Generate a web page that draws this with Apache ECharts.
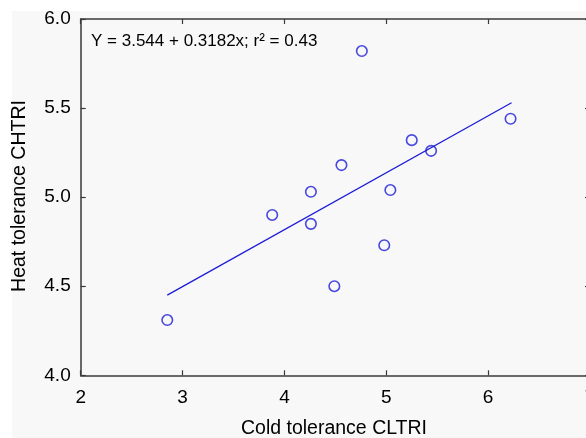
<!DOCTYPE html>
<html><head><meta charset="utf-8">
<script src="https://cdn.jsdelivr.net/npm/echarts@6/dist/echarts.min.js"></script>
<style>html,body{margin:0;padding:0;overflow:hidden;background:#fff;width:586px;height:438px}#c{width:600px;height:438px}</style>
</head><body><div id="c"></div>
<script>
const cltri = [2.85, 3.88, 4.26, 4.26, 4.49, 4.56, 4.76, 4.98, 5.04, 5.25, 5.44, 6.22];
const chtri = [4.31, 4.90, 5.03, 4.85, 4.50, 5.18, 5.82, 4.73, 5.04, 5.32, 5.26, 5.44];
const fitLine = [[2.85, 4.45], [6.23, 5.53]];
const equation = 'Y = 3.544 + 0.3182x; r\u00b2 = 0.43';
const xTitle = 'Cold tolerance CLTRI';
const yTitle = 'Heat tolerance CHTRI';

const blue = '#1c1cd8';
const axisCol = '#3a3a3a';
const font = 'Liberation Sans, Arial, sans-serif';
const points = cltri.map((x, i) => [x, chtri[i]]);

const chart = echarts.init(document.getElementById('c'), null, {renderer: 'canvas'});
const axisBase = {
  type: 'value', splitLine: {show: false},
  axisLine: {show: true, lineStyle: {color: axisCol, width: 1.5}},
  axisTick: {show: true, inside: true, length: 5, lineStyle: {color: axisCol, width: 1.2}},
};
chart.setOption({
  backgroundColor: '#ffffff',
  animation: false,
  grid: {left: 80.7, right: 10, top: 19, bottom: 62.7, containLabel: false},
  graphic: [
    {type: 'rect', z: -10, silent: true, shape: {x: 12, y: 11, width: 600, height: 440}, style: {fill: '#f8f8f8'}},
    {type: 'text', x: 91, y: 41, z: 10, style: {text: equation, font: '17px ' + font, fill: '#000', verticalAlign: 'middle'}},
    {type: 'text', z: 10, x: 334, y: 429, style: {text: xTitle, font: '19.5px ' + font, fill: '#000', align: 'center', verticalAlign: 'middle'}},
    {type: 'text', z: 10, x: 20, y: 196, rotation: Math.PI / 2, style: {text: yTitle, font: '19.5px ' + font, fill: '#000', align: 'center', verticalAlign: 'middle'}}
  ],
  xAxis: [
    Object.assign({}, axisBase, {min: 2, max: 7, interval: 1, position: 'bottom',
      axisLabel: {color: '#000', fontSize: 19, fontFamily: font, margin: 13, showMaxLabel: true}}),
    Object.assign({}, axisBase, {min: 2, max: 7, interval: 1, position: 'top', axisLabel: {show: false}})
  ],
  yAxis: [
    Object.assign({}, axisBase, {min: 4, max: 6, interval: 0.5, position: 'left',
      axisLabel: {color: '#000', fontSize: 19, fontFamily: font, margin: 10, formatter: v => v.toFixed(1)}}),
    Object.assign({}, axisBase, {min: 4, max: 6, interval: 0.5, position: 'right', axisLabel: {show: false}})
  ],
  series: [
    {type: 'line', data: fitLine, symbol: 'none', lineStyle: {color: blue, width: 1.3}, z: 2},
    {type: 'scatter', data: points, symbol: 'circle', symbolSize: 10.5,
      itemStyle: {color: 'rgba(0,0,0,0)', borderColor: blue, borderWidth: 1.6}, z: 3}
  ]
});
</script></body></html>
